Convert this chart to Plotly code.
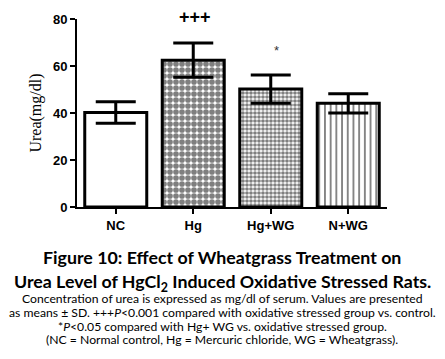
import plotly.graph_objects as go

categories = ["NC", "Hg", "Hg+WG", "N+WG"]
urea_mean = [40.2, 62.5, 50.2, 44.1]
urea_sd = [4.6, 7.3, 6.0, 4.1]
y_ticks = [0, 20, 40, 60, 80]
sig_labels = ["", "+++", "*", ""]
sig_y = [None, 80.9, 66.8, None]

title_lines = [
    "Figure 10: Effect of Wheatgrass Treatment on",
    "Urea Level of HgCl<sub>2</sub> Induced Oxidative Stressed Rats.",
]
note_lines = [
    "Concentration of urea is expressed as mg/dl of serum. Values are presented",
    "as means ± SD. +++<i>P</i>&lt;0.001 compared with oxidative stressed group vs. control.",
    "*<i>P</i>&lt;0.05 compared with Hg+ WG vs. oxidative stressed group.",
    "(NC = Normal control, Hg = Mercuric chloride, WG = Wheatgrass).",
]

patterns = [
    dict(shape=""),
    dict(shape=".", size=6, solidity=0.7, fgcolor="black", bgcolor="white"),
    dict(shape=".", size=4, solidity=0.66, fgcolor="black", bgcolor="white"),
    dict(shape="|", size=5.7, solidity=0.32, fgcolor="black", bgcolor="white"),
]

fig = go.Figure()
for i, cat in enumerate(categories):
    fig.add_trace(go.Bar(
        x=[cat], y=[urea_mean[i]],
        width=0.8,
        marker=dict(color="white", line=dict(color="black", width=3),
                    pattern=patterns[i]),
        error_y=dict(type="data", array=[urea_sd[i]], visible=True,
                     color="black", thickness=3, width=20),
        showlegend=False,
    ))

W, H = 445, 359
L, R, T, B = 77, 58, 19, 152
pw, ph = W - L - R, H - T - B

def px_to_paper_y(py):
    return (H - B - py) / ph

def px_to_paper_x(px):
    return (px - L) / pw

annotations = []
for cat, lab, yv in zip(categories, sig_labels, sig_y):
    if not lab:
        continue
    big = lab == "+++"
    annotations.append(dict(
        x=cat, y=80, xref="x", yref="y", text=lab,
        showarrow=False, yanchor="middle",
        yshift=(yv - 80) * ph / 80, xshift=2 if big else 6,
        font=dict(family="Liberation Sans", size=18 if big else 13,
                  color="black" if big else "#333333",
                  weight="bold" if big else "normal")))

title_y = [257, 282]
for txt, py in zip(title_lines, title_y):
    annotations.append(dict(x=px_to_paper_x(222), y=px_to_paper_y(py),
                            xref="paper", yref="paper", text="<b>" + txt + "</b>",
                            showarrow=False, xanchor="center", yanchor="middle",
                            font=dict(family="Lato", size=17.8, color="black")))
note_y = [298, 312, 326, 339]
for txt, py in zip(note_lines, note_y):
    annotations.append(dict(x=px_to_paper_x(222), y=px_to_paper_y(py),
                            xref="paper", yref="paper", text=txt,
                            showarrow=False, xanchor="center", yanchor="middle",
                            font=dict(family="Lato", size=12.2, color="black")))

fig.update_layout(
    width=W, height=H,
    margin=dict(l=L, r=R, t=T, b=B, pad=0, autoexpand=False),
    paper_bgcolor="white", plot_bgcolor="white",
    barmode="overlay",
    annotations=annotations,
    xaxis=dict(
        range=[-0.5, 3.5], showline=True, linecolor="black", linewidth=2,
        ticks="outside", ticklen=5, tickwidth=2, tickcolor="black",
        showgrid=False, zeroline=False, automargin=False,
        tickfont=dict(family="Liberation Sans", size=13, color="black", weight="bold"),
    ),
    yaxis=dict(
        range=[0, 80], tickvals=y_ticks, showline=True, linecolor="black",
        linewidth=2, ticks="outside", ticklen=5, tickwidth=2, tickcolor="black",
        showgrid=False, zeroline=False, automargin=False,
        tickfont=dict(family="Liberation Sans", size=13, color="black", weight="bold"),
        title=dict(text="Urea(mg/dl)", standoff=7,
                   font=dict(family="Liberation Serif", size=16, color="black")),
    ),
)

fig.write_html(
    "out.html",
    config={"displayModeBar": False},
    post_script="document.body.style.margin='0';document.body.style.overflow='hidden';",
)
